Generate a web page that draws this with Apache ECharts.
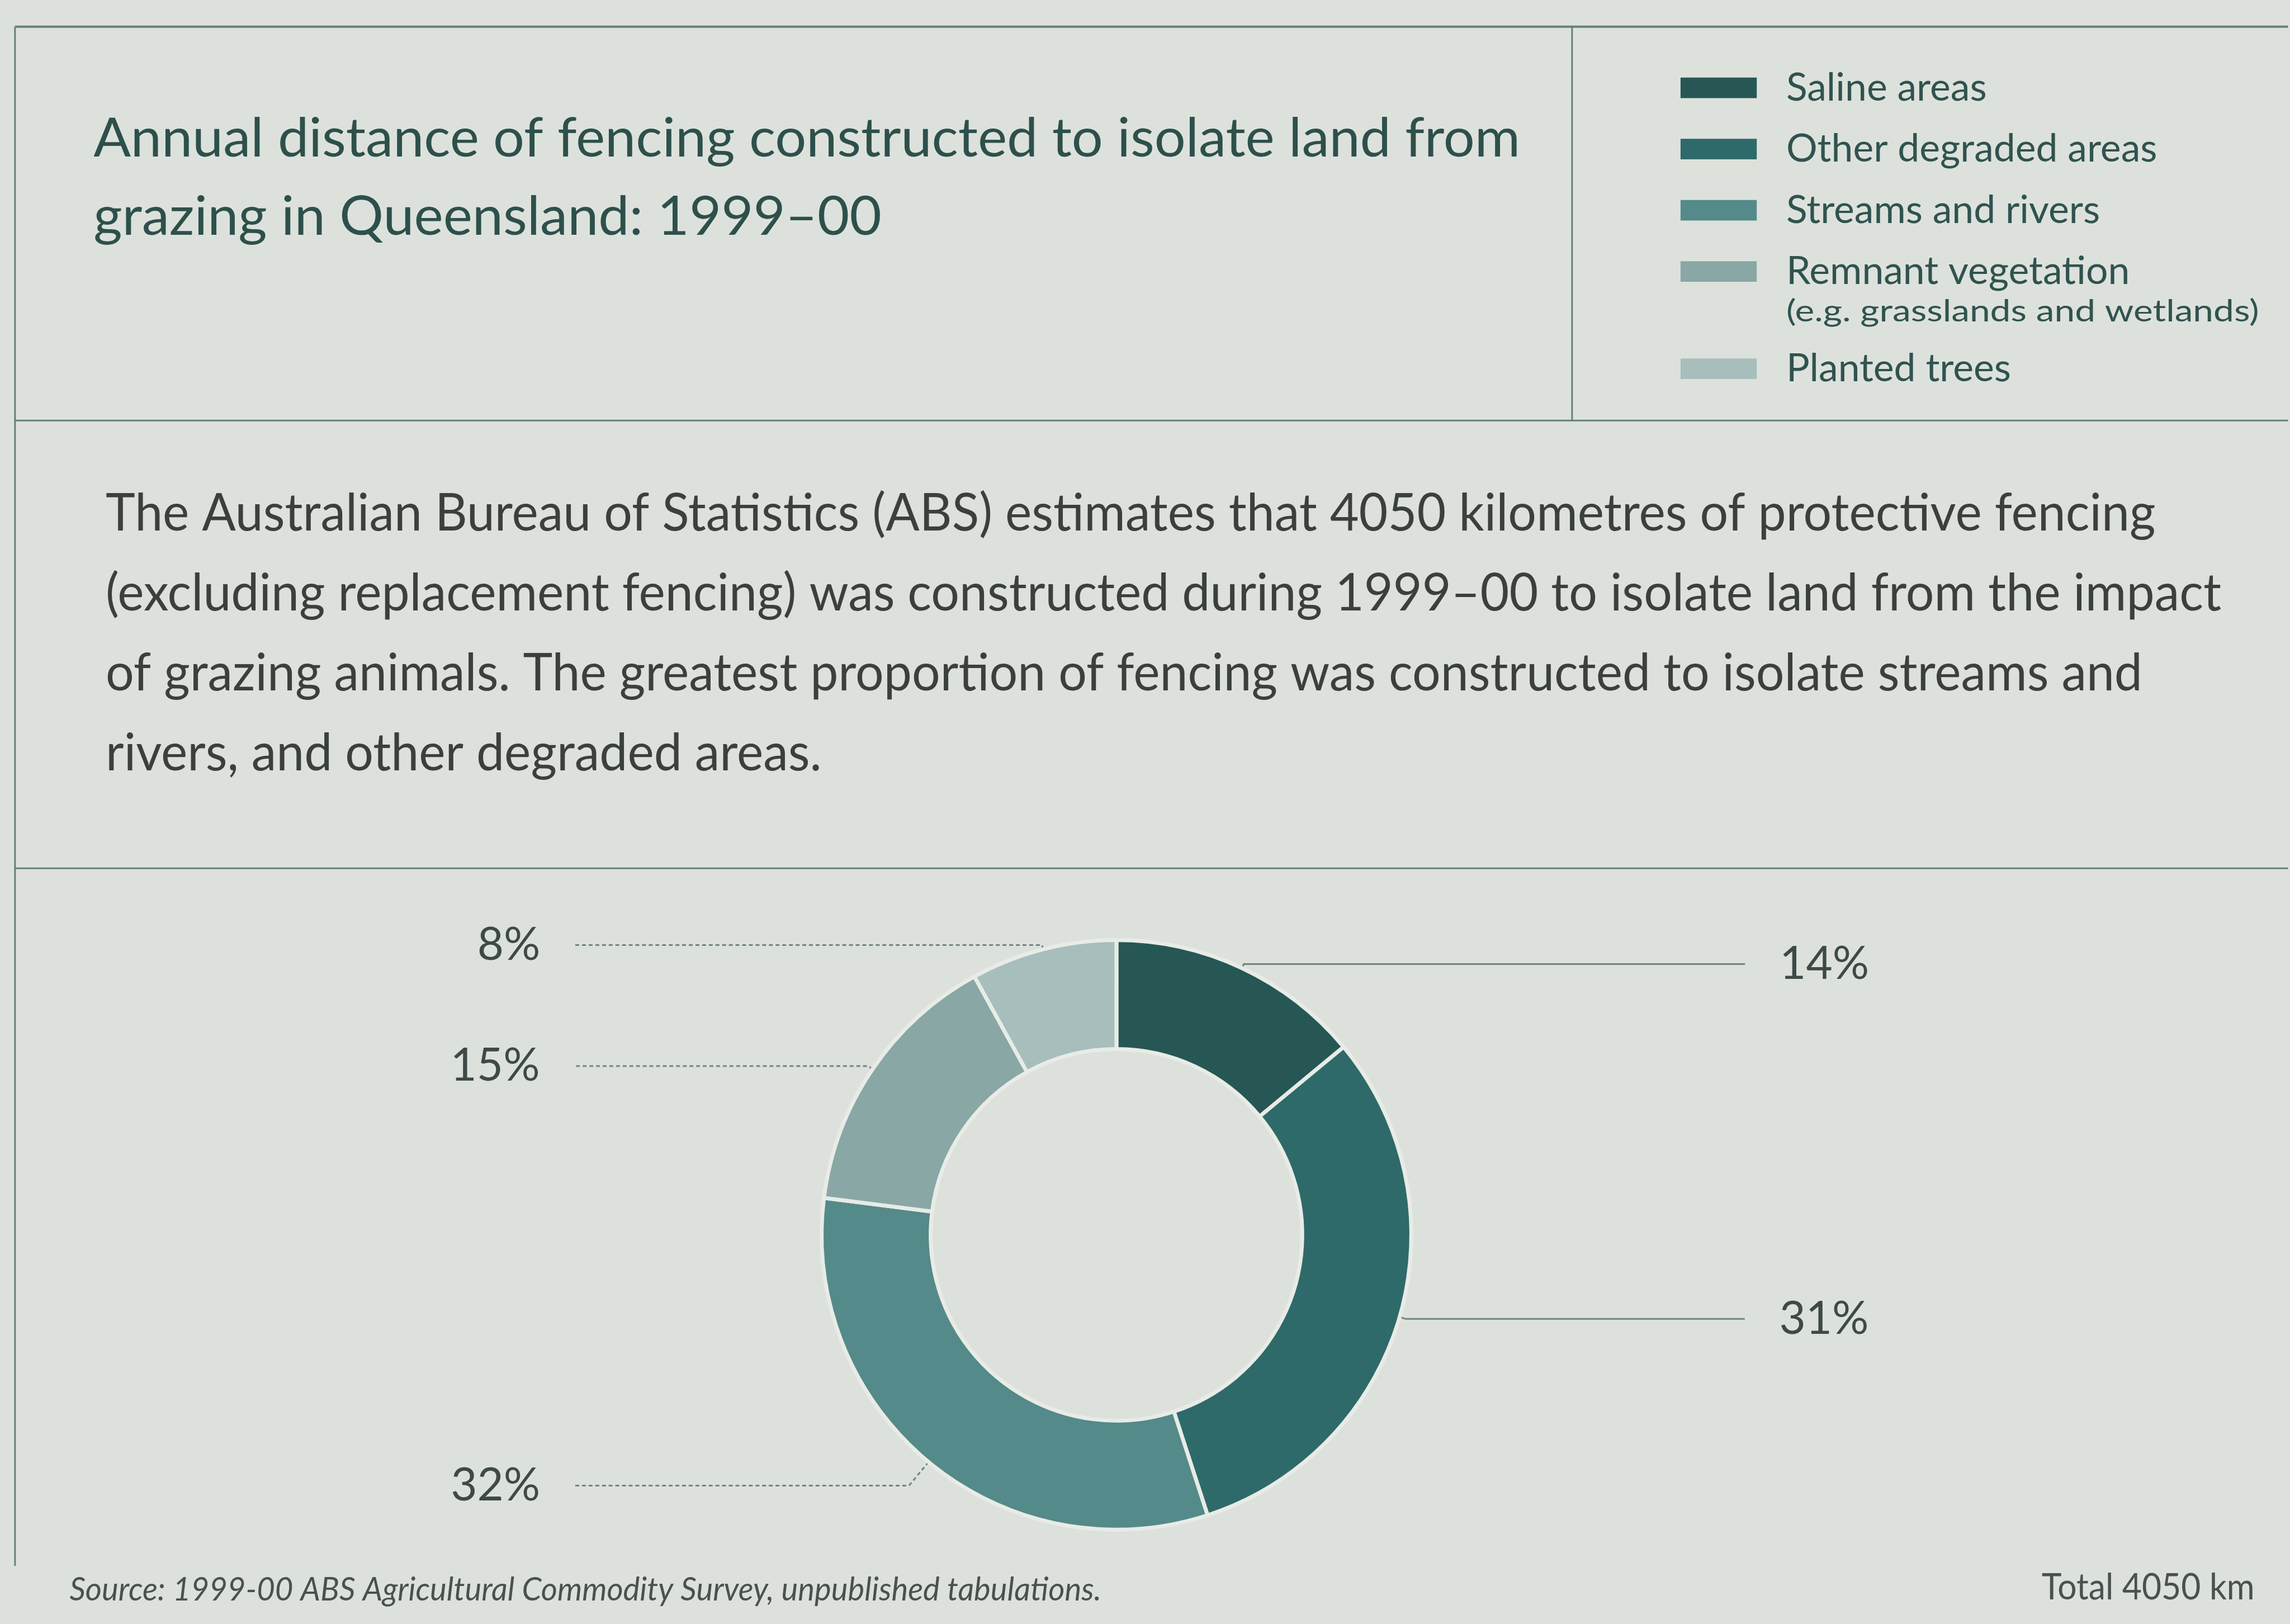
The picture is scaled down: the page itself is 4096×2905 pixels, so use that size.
<!DOCTYPE html>
<html>
<head>
<meta charset="utf-8">
<title>Protective fencing, Queensland 1999–00</title>
<style>
  html, body { margin: 0; padding: 0; background: #dde1dc; }
  #chart { width: 4096px; height: 2905px; }
</style>
<script src="https://cdn.jsdelivr.net/npm/echarts@6/dist/echarts.min.js"></script>
</head>
<body>
<div id="chart"></div>
<script>
// ---- data ----
const categories = ['Saline areas', 'Other degraded areas', 'Streams and rivers', 'Remnant vegetation', 'Planted trees'];
const shares = [14, 31, 32, 15, 8];          // per cent of total fencing length
const totalKm = 4050;
const legendNote = '(e.g. grasslands and wetlands)';
const titleLines = [
  'Annual distance of fencing constructed to isolate land from',
  'grazing in Queensland: 1999–00'
];
const bodyLines = [
  'The Australian Bureau of Statistics (ABS) estimates that 4050 kilometres of protective fencing',
  '(excluding replacement fencing) was constructed during 1999–00 to isolate land from the impact',
  'of grazing animals. The greatest proportion of fencing was constructed to isolate streams and',
  'rivers, and other degraded areas.'
];
const sourceNote = 'Source: 1999-00 ABS Agricultural Commodity Survey, unpublished tabulations.';

// ---- styling ----
const palette = ['#265754', '#2e6a69', '#548a89', '#88a7a5', '#a7bebc'];
const S = 0.995;                       // layout units -> screen pixels
const u = v => v * S;
const FONT = 'Lato';
const RULE = '#66817b';

const measure = document.createElement('canvas').getContext('2d');
function textWidth(text, size, style) {
  measure.font = (style || 'normal') + ' ' + size + 'px ' + FONT;
  return measure.measureText(text).width;
}
function textEl(text, x, yMid, size, color, opts) {
  opts = opts || {};
  return {
    type: 'text', silent: true,
    x: u(x), y: u(yMid), scaleX: opts.scaleX || 1,
    style: {
      text: text, fontFamily: FONT, fontSize: u(size),
      fontStyle: opts.italic ? 'italic' : 'normal',
      fill: color, align: opts.align || 'left', verticalAlign: 'middle'
    }
  };
}
function rule(x1, y1, x2, y2, w) {
  return { type: 'line', silent: true,
    shape: { x1: u(x1), y1: u(y1), x2: u(x2), y2: u(y2) },
    style: { stroke: RULE, lineWidth: u(w) } };
}

// horizontal squeeze so the set type keeps its measure
const titleSize = 98, bodySize = 94;
const titleScale = 2565 / textWidth(titleLines[0], titleSize);
const bodyScale = (3688 / textWidth(bodyLines[0], bodySize) + 3801 / textWidth(bodyLines[1], bodySize)) / 2;
const sourceScale = 1855 / textWidth(sourceNote, 58, 'italic');
const totalText = 'Total ' + totalKm + ' km';
const totalScale = 383 / textWidth(totalText, 66);
const noteScale = 850 / textWidth(legendNote, 54);

const graphics = [
  rule(27, 48, 4113, 48, 4),
  rule(27, 48, 27, 2815, 3),
  rule(2826, 48, 2826, 756, 3),
  rule(27, 756, 4113, 756, 3),
  rule(27, 1561, 4113, 1561, 3),
  textEl(legendNote, 3211, 560, 54, '#30534f', { scaleX: noteScale }),
  textEl(sourceNote, 125, 2859, 58, '#4b5150', { italic: true, scaleX: sourceScale }),
  textEl(totalText, 4053, 2854, 66, '#4b5150', { align: 'right', scaleX: totalScale })
];
titleLines.forEach((t, i) => graphics.push(textEl(t, 168, 250 + i * 141, titleSize, '#2d504b', { scaleX: titleScale })));
bodyLines.forEach((t, i) => graphics.push(textEl(t, 190, 923 + i * 144, bodySize, '#3b403e', { scaleX: bodyScale })));

// leader lines: right-hand labels solid, left-hand labels dotted;
// second segments sized so each side's lines finish on a common column
const dotted = { type: [u(7), u(5)] };
const leader = [
  { length: u(8),  length2: u(901), lineStyle: { type: 'solid' } },
  { length: u(12), length2: u(609), lineStyle: { type: 'solid' } },
  { length: u(55), length2: u(601), lineStyle: dotted },
  { length: u(10), length2: u(528), lineStyle: dotted },
  { length: u(8),  length2: u(840), lineStyle: dotted }
];

const legendBase = {
  orient: 'vertical', left: u(3021), padding: 0, icon: 'rect',
  itemWidth: u(137), itemHeight: u(37), itemGap: u(38), selectedMode: false,
  itemStyle: { borderWidth: 0 },
  textStyle: { fontFamily: FONT, fontSize: u(70), lineHeight: u(72), color: '#30534f', padding: [0, 0, 0, u(48)] }
};

const chart = echarts.init(document.getElementById('chart'), null, { renderer: 'canvas' });
chart.setOption({
  backgroundColor: '#dde1dc',
  animation: false,
  legend: [
    Object.assign({}, legendBase, { top: u(122), data: categories.slice(0, 4) }),
    Object.assign({}, legendBase, { top: u(627), data: categories.slice(4) })
  ],
  graphic: { elements: graphics },
  series: [{
    type: 'pie',
    center: [u(2007), u(2220)],
    radius: [u(334), u(530)],
    startAngle: 90,
    clockwise: true,
    avoidLabelOverlap: true,
    emphasis: { disabled: true },
    itemStyle: { borderColor: '#e8ebe6', borderWidth: u(7) },
    label: {
      position: 'outside', alignTo: 'labelLine', formatter: '{c}%',
      fontFamily: FONT, fontSize: u(82), color: '#3e4a47',
      distanceToLabelLine: u(62)
    },
    labelLine: { show: true, lineStyle: { color: '#70867f', width: u(3) } },
    data: categories.map((name, i) => ({
      name: name,
      value: shares[i],
      itemStyle: { color: palette[i] },
      labelLine: leader[i]
    }))
  }]
});
</script>
</body>
</html>
